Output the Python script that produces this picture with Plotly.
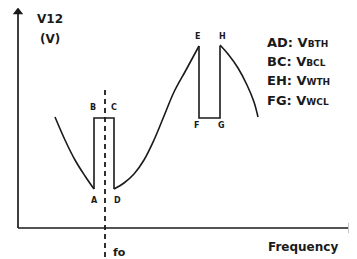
import plotly.graph_objects as go

# Schematic curve of V12 vs frequency (arbitrary units, origin at axes corner)
freq_left = [37, 47, 57, 67, 76]
v12_left = [111, 88, 68, 52, 39]

freq_abcd = [76, 76, 96, 96]
v12_abcd = [39, 110, 110, 39]

freq_mid = [96, 106, 116, 126, 136, 146, 156, 168, 181]
v12_mid = [39, 45, 54, 68, 88, 112, 136, 158, 182]

freq_efgh = [181, 181, 202, 202]
v12_efgh = [182, 110, 110, 182]

freq_right = [202, 210, 220, 229, 236, 240]
v12_right = [183, 174, 160, 143, 126, 111]

f0 = 87
point_labels = ["A", "B", "C", "D", "E", "F", "G", "H"]
point_x = [76, 75, 96, 99, 179, 178, 203, 204]
point_y = [28, 121, 121, 28, 192, 103, 103, 192]

legend_keys = ["AD", "BC", "EH", "FG"]
legend_subs = ["BTH", "BCL", "WTH", "WCL"]

FONT = "DejaVu Sans"
INK = "#1a1a1a"

fig = go.Figure()

def line(x, y, shape="linear", dash="solid", width=1.6):
    fig.add_trace(go.Scatter(x=x, y=y, mode="lines", line=dict(color=INK, width=width, shape=shape, dash=dash),
                             hoverinfo="skip", showlegend=False))

# axes
line([0, 0], [0, 214], width=1.7)
line([0, 330], [0, 0], width=1.7)
fig.add_trace(go.Scatter(x=[0], y=[216], mode="markers", marker=dict(symbol="triangle-up", size=9, color=INK),
                         hoverinfo="skip", showlegend=False))
fig.add_trace(go.Scatter(x=[333], y=[0], mode="markers", marker=dict(symbol="triangle-right", size=9, color=INK),
                         hoverinfo="skip", showlegend=False))

# fo dashed line
line([f0, f0], [138, -30], dash="5px,4px", width=1.8)

# curve segments
line(freq_left, v12_left, shape="spline")
line(freq_abcd, v12_abcd)
line(freq_mid, v12_mid, shape="spline")
line(freq_efgh, v12_efgh)
line(freq_right, v12_right, shape="spline")

ann = []
for t, x, y in zip(point_labels, point_x, point_y):
    ann.append(dict(x=x, y=y, text=f"<b>{t}</b>", showarrow=False, font=dict(family=FONT, size=8, color=INK)))

ann.append(dict(x=32, y=209, text="<b>V12</b>", showarrow=False, font=dict(family=FONT, size=12, color=INK)))
ann.append(dict(x=32, y=189, text="<b>(V)</b>", showarrow=False, font=dict(family=FONT, size=12, color=INK)))
for i, (k, s) in enumerate(zip(legend_keys, legend_subs)):
    ann.append(dict(x=247, y=[186, 167, 148, 128][i], xanchor="left",
                    text=f"<b>{k}: V<span style='font-size:9px'>{s}</span></b>",
                    showarrow=False, font=dict(family=FONT, size=13, color=INK)))
ann.append(dict(x=285, y=-19, text="<b>Frequency</b>", showarrow=False, font=dict(family=FONT, size=12, color=INK)))
ann.append(dict(x=101, y=-24, text="<b>fo</b>", showarrow=False, font=dict(family=FONT, size=11, color=INK)))

# page body has an 8px margin, so the figure is shrunk and the ranges start 8px in
fig.update_layout(
    width=349, height=251,
    margin=dict(l=0, r=0, t=0, b=0),
    paper_bgcolor="white", plot_bgcolor="white",
    xaxis=dict(range=[-10, 339], visible=False, fixedrange=True),
    yaxis=dict(range=[-31, 220], visible=False, fixedrange=True),
    annotations=ann,
    showlegend=False,
)

fig.write_html("out.html")
